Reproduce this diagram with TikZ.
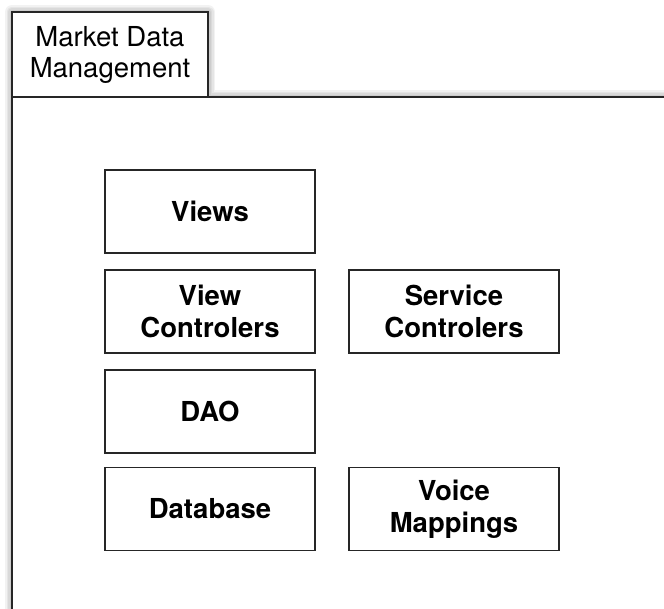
\documentclass[tikz,border=0pt]{standalone}
\usepackage{fontspec}
\setmainfont{TeX Gyre Heros}
\begin{document}
\begin{tikzpicture}[x=1pt,y=-1pt,
  pkgline/.style={draw=black!85, line width=1.6pt, line join=miter},
  comp/.style={draw=black!85, line width=1.6pt, fill=white, minimum width=210pt,
    minimum height=83pt, inner sep=0pt, align=center,
    font=\fontsize{27.5}{32}\selectfont\bfseries},
  tabtext/.style={align=center, inner sep=0pt, font=\fontsize{27.5}{31.5}\selectfont}]
\useasboundingbox (0,0) rectangle (664,608);
\clip (0,0) rectangle (664,608);
\fill[white] (0,0) rectangle (664,608);
% soft halo around the package outline
\foreach \w in {14,11,8,5}
  \draw[black, opacity=0.05, line width=\w pt, line join=round]
    (12,640) -- (12,12) -- (208,12) -- (208,97) -- (700,97);
% package body and tab
\fill[white] (12,97) rectangle (700,640);
\fill[white] (12,12) rectangle (208,97);
\draw[pkgline] (12,640) -- (12,97) -- (700,97);
\draw[pkgline] (12,97) -- (12,12) -- (208,12) -- (208,97);
\node[tabtext] (tab) at (110,55) {Market Data\\Management};
% components
\node[comp] (views)  at (210,211.5) {Views};
\node[comp] (vctrl)  at (210,311.5) {View\\Controlers};
\node[comp] (dao)    at (210,411.5) {DAO};
\node[comp] (db)     at (210,509)   {Database};
\node[comp] (sctrl)  at (454,311.5) {Service\\Controlers};
\node[comp] (voice)  at (454,509)   {Voice\\Mappings};
\end{tikzpicture}
\end{document}
